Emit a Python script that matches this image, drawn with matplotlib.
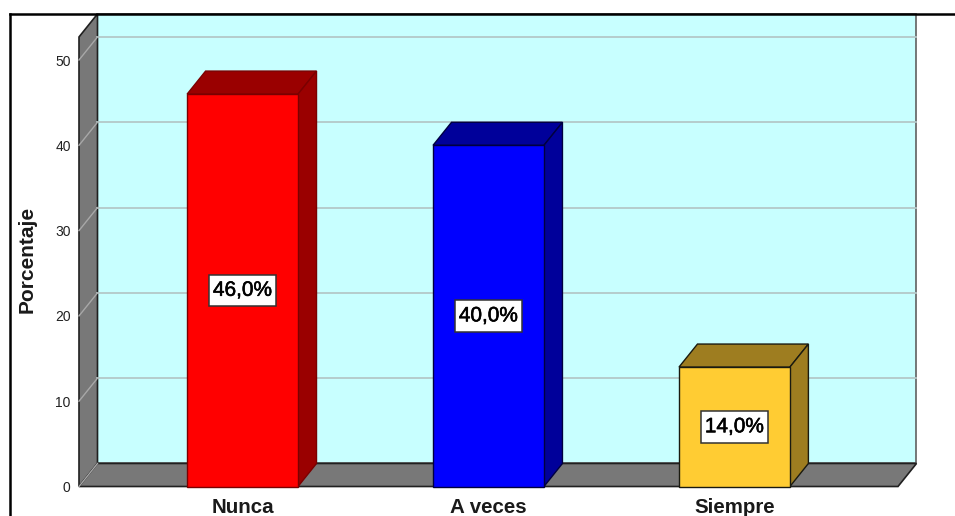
import matplotlib
matplotlib.use("Agg")
import matplotlib.pyplot as plt
import matplotlib.patheffects as pe
from matplotlib.lines import Line2D
from matplotlib.patches import Polygon, Rectangle

categories = ["Nunca", "A veces", "Siempre"]
percentages = [46.0, 40.0, 14.0]
y_ticks = [0, 10, 20, 30, 40, 50]

face_colors = ["#ff0000", "#0000ff", "#ffcc33"]
shade_colors = ["#9a0000", "#00009a", "#9e7d20"]
edge_colors = ["#7a0000", "#000040", "#1a1a10"]

WALL = "#c8ffff"
SIDE = "#787878"
GRID = "#b4c8c8"

# 3D offset of the back plane, in axis units
DX = 0.0752
DY = 2.7
BAR_W = 0.451
BOX_W = 0.272
BOX_H = 3.7
X_MIN, X_MAX = -0.665, 2.665
Y_TOP = 52.7

plt.rcParams["font.family"] = ["Liberation Sans", "DejaVu Sans"]

fig = plt.figure(figsize=(9.55, 5.16), dpi=100)
ax = fig.add_axes([79 / 955, 29.5 / 516, 819 / 955, 426.5 / 516])
ax.set_xlim(X_MIN, X_MAX)
ax.set_ylim(0, 50)
for spine in ax.spines.values():
    spine.set_visible(False)
ax.patch.set_visible(False)


def add_face(points, color, edge, lw=1.0, z=1):
    ax.add_patch(Polygon(points, closed=True, facecolor=color, edgecolor=edge,
                         linewidth=lw, zorder=z, clip_on=False, joinstyle="miter"))


# back wall, left wall and floor
add_face([(X_MIN + DX, DY), (X_MAX + DX, DY), (X_MAX + DX, Y_TOP + DY), (X_MIN + DX, Y_TOP + DY)],
         WALL, "#606060", lw=1.2)
add_face([(X_MIN, 0), (X_MIN + DX, DY), (X_MIN + DX, Y_TOP + DY), (X_MIN, Y_TOP)],
         SIDE, "#202020", lw=1.2)
add_face([(X_MIN, 0), (X_MAX, 0), (X_MAX + DX, DY), (X_MIN + DX, DY)],
         SIDE, "#202020", lw=1.2)

# gridlines run along the back wall and down the left wall
for tick in y_ticks:
    if tick > 0:
        ax.plot([X_MIN + DX, X_MAX + DX], [tick + DY, tick + DY], color=GRID, lw=1.3,
                zorder=2, clip_on=False)
    ax.plot([X_MIN, X_MIN + DX], [tick, tick + DY], color="#a8a8a8", lw=1.0,
            zorder=2, clip_on=False)

# front faces, then the top and side faces of each bar
positions = list(range(len(categories)))
ax.bar(positions, percentages, width=BAR_W, color=face_colors, edgecolor=edge_colors,
       linewidth=1.0, zorder=4, clip_on=False)

for x, value, shade, edge in zip(positions, percentages, shade_colors, edge_colors):
    left, right = x - BAR_W / 2, x + BAR_W / 2
    add_face([(left, value), (right, value), (right + DX, value + DY), (left + DX, value + DY)],
             shade, edge, z=3)
    add_face([(right, 0), (right + DX, DY), (right + DX, value + DY), (right, value)],
             shade, edge, z=3)
    ax.add_patch(Rectangle((x - BOX_W / 2, value / 2 - BOX_H / 2), BOX_W, BOX_H,
                           facecolor="white", edgecolor="#333333", linewidth=1.1, zorder=5))
    ax.text(x, value / 2, f"{value:.1f}".replace(".", ",") + "%", ha="center", va="center",
            fontsize=15, color="black", zorder=6,
            path_effects=[pe.withStroke(linewidth=0.4, foreground="black")])

ax.set_xticks(positions)
ax.set_xticklabels(categories, fontsize=14.8, fontweight="bold", color="#1a1a1a")
ax.set_yticks(y_ticks)
ax.set_yticklabels([str(t) for t in y_ticks], fontsize=10, color="#222222")
ax.tick_params(axis="both", length=0)
ax.tick_params(axis="x", pad=8.5)
ax.tick_params(axis="y", pad=6)

fig.text(27.5 / 955, 1 - 259 / 516, "Porcentaje", rotation=90, ha="center", va="center",
         fontsize=15, fontweight="bold", color="#1a1a1a")

# outer frame, open on the right and at the bottom
fig.add_artist(Line2D([10 / 955, 10 / 955], [0, 1 - 14 / 516], color="black", lw=1.8))
fig.add_artist(Line2D([10 / 955, 1], [1 - 14 / 516, 1 - 14 / 516], color="black", lw=1.8))

fig.savefig("out.png", dpi=100)
